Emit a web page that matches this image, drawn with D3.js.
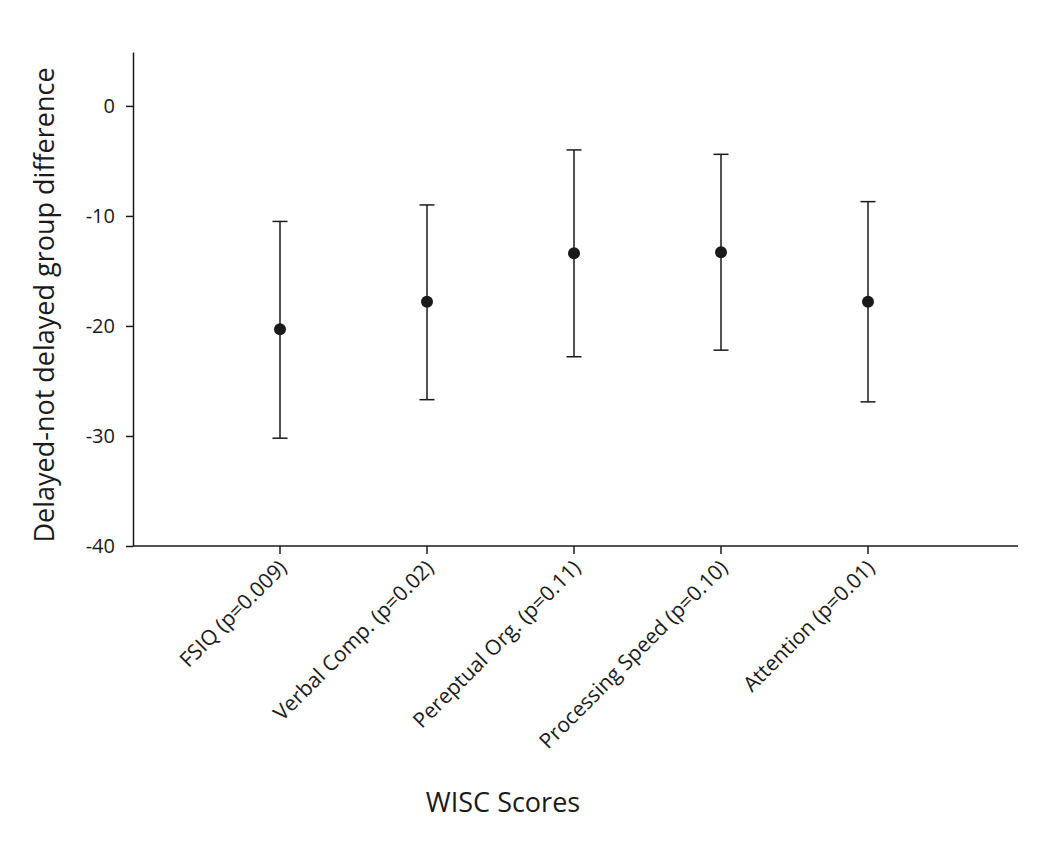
<!DOCTYPE html>
<html>
<head>
<meta charset="utf-8">
<script src="https://cdn.jsdelivr.net/npm/d3@7"></script>
<style>
  body { margin: 0; background: #fff; }
  svg { display: block; }
  text { font-family: "Open Sans", "Liberation Sans", sans-serif; fill: #1a1a1a; }
</style>
</head>
<body>
<svg id="chart" width="1050" height="844"></svg>
<script>
// ---- data ----
const categories = ["FSIQ (p=0.009)", "Verbal Comp. (p=0.02)", "Pereptual Org. (p=0.11)", "Processing Speed (p=0.10)", "Attention (p=0.01)"];
const means = [-20.3, -17.8, -13.4, -13.3, -17.8];
const upper = [-10.5, -9.0, -4.0, -4.4, -8.7];
const lower = [-30.2, -26.7, -22.8, -22.2, -26.9];
const yTicks = [0, -10, -20, -30, -40];
const xTitle = "WISC Scores";
const yTitle = "Delayed-not delayed group difference";

// ---- layout ----
const svg = d3.select("#chart");
const mLeft = 133, mRight = 1018, mTop = 52, mBottom = 546;
const ink = "#1a1a1a";

const x = d3.scaleLinear().domain([0, categories.length + 1]).range([mLeft, mLeft + 147 * (categories.length + 1)]);
const y = d3.scaleLinear().domain([-40, 4.9]).range([mBottom, mTop]);

// y axis
const yAxis = svg.append("g").attr("transform", `translate(${mLeft},0)`)
  .call(d3.axisLeft(y).tickValues(yTicks).tickFormat(d => String(d)).tickSize(7).tickPadding(11).tickSizeOuter(0));
yAxis.select(".domain").attr("stroke", ink).attr("stroke-width", 1.5);
yAxis.selectAll(".tick line").attr("stroke", ink).attr("stroke-width", 1.5);
yAxis.selectAll(".tick text").attr("font-size", 20).attr("fill", ink)
  .attr("font-family", '"Open Sans", sans-serif');

// x axis
const xAxisG = svg.append("g").attr("transform", `translate(0,${mBottom})`);
xAxisG.append("line").attr("x1", mLeft).attr("x2", mRight).attr("y1", 0).attr("y2", 0)
  .attr("stroke", ink).attr("stroke-width", 1.5);
categories.forEach((c, i) => {
  const cx = x(i + 1);
  xAxisG.append("line").attr("x1", cx).attr("x2", cx).attr("y1", 0).attr("y2", 8)
    .attr("stroke", ink).attr("stroke-width", 1.5);
  xAxisG.append("text")
    .attr("transform", `translate(${cx + 8},${23}) rotate(-45)`)
    .attr("text-anchor", "end")
    .attr("font-size", 21)
    .text(c);
});

// error bars
const g = svg.append("g");
categories.forEach((c, i) => {
  const cx = x(i + 1);
  g.append("line").attr("x1", cx).attr("x2", cx).attr("y1", y(upper[i])).attr("y2", y(lower[i]))
    .attr("stroke", ink).attr("stroke-width", 1.5);
  [upper[i], lower[i]].forEach(v => {
    g.append("line").attr("x1", cx - 7.5).attr("x2", cx + 7.5).attr("y1", y(v)).attr("y2", y(v))
      .attr("stroke", ink).attr("stroke-width", 1.5);
  });
  g.append("circle").attr("cx", cx).attr("cy", y(means[i])).attr("r", 6).attr("fill", ink);
});

// titles
svg.append("text").attr("x", 503).attr("y", 812).attr("text-anchor", "middle")
  .attr("font-size", 27).text(xTitle);
svg.append("text").attr("transform", `translate(54,305) rotate(-90)`).attr("text-anchor", "middle")
  .attr("font-size", 27).text(yTitle);
</script>
</body>
</html>
